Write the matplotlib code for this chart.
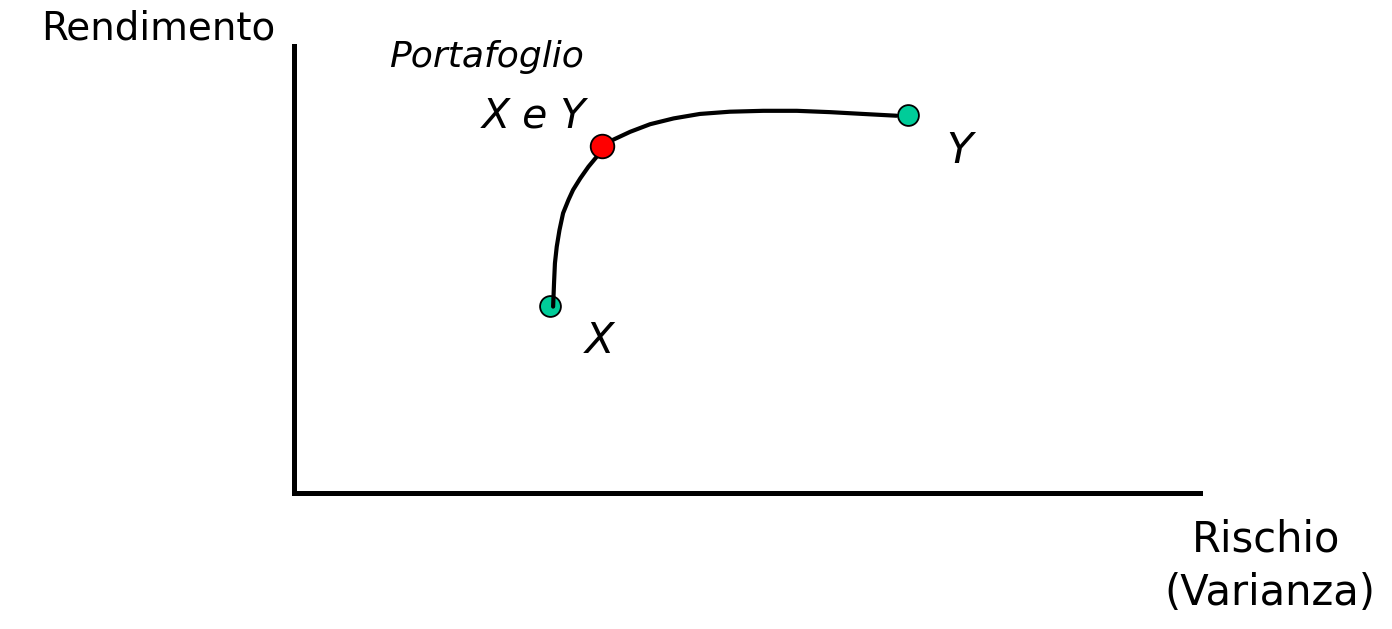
import matplotlib
matplotlib.use("Agg")
import matplotlib.pyplot as plt

# frontiera rischio/rendimento (scala 0-100 su entrambi gli assi)
curve_risk = [28.6, 28.7, 28.8, 29.0, 29.3, 29.7, 30.3, 30.8, 31.6, 32.5, 33.4,
              34.0, 35.2, 37.1, 39.3, 41.9, 44.8, 48.1, 51.8, 55.5, 59.2,
              62.8, 66.5]
curve_ret = [41.7, 46.9, 51.4, 55.1, 58.8, 62.6, 65.6, 67.8, 70.4, 73.0, 75.2,
             77.7, 79.0, 80.8, 82.5, 83.8, 84.8, 85.3, 85.5, 85.5, 85.2,
             84.8, 84.4]

# titoli singoli
asset_names = ["X", "Y"]
asset_risk = [28.3, 67.8]
asset_ret = [41.9, 84.6]

# portafoglio
port_risk = [34.0]
port_ret = [77.7]

W, H = 1392, 629


def px(x, y):
    # pixel dell'immagine -> frazione della figura
    return x / W, 1 - y / H


fig = plt.figure(figsize=(W / 100, H / 100), dpi=100)
fig.patch.set_facecolor("white")

# assi: da (294, 46) a (1200, 493) in pixel
ax = fig.add_axes([294 / W, 1 - 493 / H, (1200 - 294) / W, (493 - 46) / H])
ax.set_xlim(0, 100)
ax.set_ylim(0, 100)
ax.set_xticks([])
ax.set_yticks([])
for s in ["top", "right"]:
    ax.spines[s].set_visible(False)
for s in ["left", "bottom"]:
    ax.spines[s].set_linewidth(3.6)
    ax.spines[s].set_capstyle("projecting")

ax.plot(asset_risk, asset_ret, "o", color="#00CC99", markersize=15,
        markeredgecolor="black", markeredgewidth=1.3, zorder=2, clip_on=False)
ax.plot(curve_risk, curve_ret, color="black", linewidth=3, zorder=3,
        solid_capstyle="round", solid_joinstyle="round", clip_on=False)
ax.plot(port_risk, port_ret, "o", color="#FF0000", markersize=17,
        markeredgecolor="black", markeredgewidth=1.3, zorder=4, clip_on=False)

fam = "DejaVu Sans"
fig.text(*px(158, 39), "Rendimento", fontsize=28, ha="center", va="baseline", family=fam)
fig.text(*px(1266, 552), "Rischio", fontsize=30, ha="center", va="baseline", family=fam)
fig.text(*px(1270, 605), "(Varianza)", fontsize=30, ha="center", va="baseline", family=fam)

fig.text(*px(486, 67), "Portafoglio", fontsize=26, style="italic",
         ha="center", va="baseline", family=fam)
fig.text(*px(534, 128), "X e Y", fontsize=29.5, style="italic",
         ha="center", va="baseline", family=fam)
fig.text(*px(600, 353), asset_names[0], fontsize=31, style="italic",
         ha="center", va="baseline", family=fam)
fig.text(*px(959, 163), asset_names[1], fontsize=31, style="italic",
         ha="center", va="baseline", family=fam)

fig.savefig("out.png", dpi=100, facecolor="white")
